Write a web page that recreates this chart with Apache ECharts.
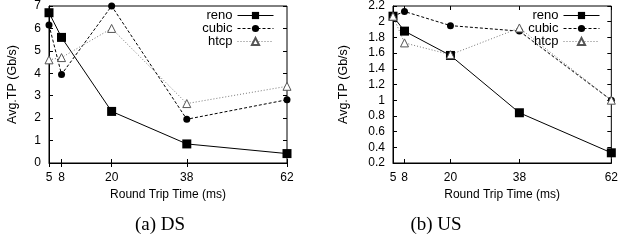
<!DOCTYPE html>
<html>
<head>
<meta charset="utf-8">
<script src="https://cdn.jsdelivr.net/npm/echarts@6/dist/echarts.min.js"></script>
<style>
  html, body { margin: 0; padding: 0; background: #fff; }
  #chart { width: 621px; height: 243px; }
</style>
</head>
<body>
<div id="chart"></div>
<script>
// round trip times (ms)
var rtt = [5, 8, 20, 38, 62];
// (a) DS throughput, Gb/s
var dsReno  = [6.7, 5.6, 2.3, 0.85, 0.42];
var dsCubic = [6.15, 3.95, 7.0, 1.95, 2.82];
var dsHtcp  = [4.6, 4.7, 6.0, 2.65, 3.42];
// (b) US throughput, Gb/s
var usReno  = [2.07, 1.88, 1.57, 0.84, 0.33];
var usCubic = [2.07, 2.13, 1.95, 1.88, 1.0];
var usHtcp  = [2.07, 1.73, 1.58, 1.92, 1.0];

var captions = ['(a) DS', '(b) US'];
var font = 'Liberation Sans';

function pairs(ys) {
    return rtt.map(function (x, i) { return [x, ys[i]]; });
}

function xAxisFor(gridIndex, top) {
    return {
        type: 'value', gridIndex: gridIndex, min: 5, max: 62,
        position: top ? 'top' : 'bottom',
        name: top ? '' : 'Round Trip Time (ms)',
        nameLocation: 'middle', nameGap: 25,
        nameTextStyle: { fontFamily: font, fontSize: 12, color: '#000' },
        axisLine: { show: !top, lineStyle: { color: '#000', width: 1 } },
        axisTick: { show: true, inside: true, length: 4, customValues: rtt, lineStyle: { color: '#000' } },
        axisLabel: { show: !top, customValues: rtt, margin: 9, fontFamily: font, fontSize: 12, color: '#000' },
        splitLine: { show: false }
    };
}

function yAxisFor(gridIndex, right, min, max, step, gap) {
    return {
        type: 'value', gridIndex: gridIndex, min: min, max: max, interval: step,
        position: right ? 'right' : 'left',
        name: right ? '' : 'Avg.TP (Gb/s)',
        nameLocation: 'middle', nameGap: gap,
        nameTextStyle: { fontFamily: font, fontSize: 12.5, color: '#000' },
        axisLine: { show: !right, lineStyle: { color: '#000', width: 1 } },
        axisTick: { show: true, inside: true, length: 4, lineStyle: { color: '#000' } },
        axisLabel: { show: !right, margin: 8, fontFamily: font, fontSize: 12, color: '#000' },
        splitLine: { show: false }
    };
}

function seriesFor(gi, reno, cubic, htcp) {
    return [
        {
            name: 'reno', type: 'line', xAxisIndex: gi * 2, yAxisIndex: gi * 2,
            data: pairs(reno), symbol: 'rect', symbolSize: 9,
            lineStyle: { color: '#000', width: 1 },
            itemStyle: { color: '#000' }
        },
        {
            name: 'cubic', type: 'line', xAxisIndex: gi * 2, yAxisIndex: gi * 2,
            data: pairs(cubic), symbol: 'circle', symbolSize: 7,
            lineStyle: { color: '#000', width: 1, type: [3, 2] },
            itemStyle: { color: '#000' }
        },
        {
            name: 'htcp', type: 'line', xAxisIndex: gi * 2, yAxisIndex: gi * 2,
            data: pairs(htcp), symbol: 'triangle', symbolSize: 8,
            lineStyle: { color: '#777', width: 1, type: [1, 2] },
            itemStyle: { color: '#fff', borderColor: '#555', borderWidth: 1 }
        }
    ];
}

var legendText = { fontFamily: font, fontSize: 13, color: '#000', lineHeight: 12 };
var captionText = { fontFamily: 'Liberation Serif', fontSize: 19, fontWeight: 'normal', color: '#000' };

var myChart = echarts.init(document.getElementById('chart'));
var option = {
    animation: false,
    backgroundColor: '#fff',
    title: [
        { text: captions[0], left: 160, top: 216, textAlign: 'center', padding: 0, textStyle: captionText },
        { text: captions[1], left: 436, top: 216, textAlign: 'center', padding: 0, textStyle: captionText }
    ],
    legend: [
        { right: 347, top: 9, orient: 'vertical', align: 'right', itemWidth: 36, itemHeight: 9, itemGap: 0, padding: 0,
          lineStyle: { width: 1 }, textStyle: legendText },
        { right: 21, top: 9, orient: 'vertical', align: 'right', itemWidth: 36, itemHeight: 9, itemGap: 0, padding: 0,
          lineStyle: { width: 1 }, textStyle: legendText }
    ],
    grid: [
        { left: 49, right: 334, top: 6, bottom: 80, show: true, borderColor: '#000', borderWidth: 1, backgroundColor: 'transparent' },
        { left: 393, right: 7, top: 6, bottom: 80, show: true, borderColor: '#000', borderWidth: 1, backgroundColor: 'transparent' }
    ],
    xAxis: [xAxisFor(0, false), xAxisFor(0, true), xAxisFor(1, false), xAxisFor(1, true)],
    yAxis: [
        yAxisFor(0, false, 0, 7, 1, 30), yAxisFor(0, true, 0, 7, 1, 0),
        yAxisFor(1, false, 0.2, 2.2, 0.2, 43), yAxisFor(1, true, 0.2, 2.2, 0.2, 0)
    ],
    series: seriesFor(0, dsReno, dsCubic, dsHtcp).concat(seriesFor(1, usReno, usCubic, usHtcp))
};
myChart.setOption(option);
</script>
</body>
</html>
